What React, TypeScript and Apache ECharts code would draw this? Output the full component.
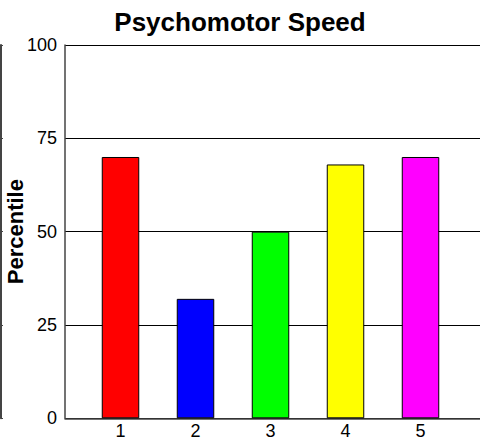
import React, { useEffect, useRef } from "react";
import * as echarts from "echarts";

const categories = [1, 2, 3, 4, 5];
const values = [70, 32, 50, 68, 70];
const barColors = ["#ff0000", "#0000ff", "#00ff00", "#ffff00", "#ff00ff"];
const yTicks = [0, 25, 50, 75, 100];
const title = "Psychomotor Speed";
const yName = "Percentile";

export default function App() {
  const ref = useRef<HTMLDivElement>(null);
  useEffect(() => {
    if (!ref.current) return;
    const chart = echarts.init(ref.current, null, { renderer: "svg" });
    const font = "'Liberation Sans', Arial, sans-serif";
    chart.setOption({
      animation: false,
      title: {
        text: title,
        left: "center",
        top: 4,
        textStyle: { fontFamily: font, fontWeight: "bold", fontSize: 26, color: "#000" },
      },
      grid: { left: 65, right: -10, top: 45, bottom: 444 - 418.3, outerBoundsMode: "none", containLabel: false },
      xAxis: {
        type: "value",
        min: 0.26,
        max: 0.26 + 425 / 75,
        axisLine: { show: true, lineStyle: { color: "#444", width: 1.5 } },
        axisTick: { show: false, customValues: categories },
        splitLine: { show: false },
        axisLabel: {
          customValues: categories,
          fontFamily: font,
          fontSize: 18,
          color: "#000",
          margin: 4,
        },
      },
      yAxis: [
        {
          type: "value",
          min: yTicks[0],
          max: yTicks[yTicks.length - 1],
          interval: 25,
          name: yName,
          nameLocation: "middle",
          nameGap: 39,
          nameMoveOverlap: false,
          nameTextStyle: { fontFamily: font, fontWeight: "bold", fontSize: 22, color: "#000" },
          axisLine: { show: true, lineStyle: { color: "#444", width: 1.5 } },
          axisTick: { show: false },
          splitLine: { show: true, lineStyle: { color: "#000", width: 1.2 } },
          axisLabel: { fontFamily: font, fontSize: 18, color: "#000", margin: 8 },
        },
        {
          type: "value",
          min: yTicks[0],
          max: yTicks[yTicks.length - 1],
          interval: 25,
          position: "left",
          offset: 64,
          axisLine: { show: true, lineStyle: { color: "#444", width: 2 } },
          axisTick: { show: true, inside: true, length: 2, lineStyle: { color: "#444" } },
          axisLabel: { show: false },
          splitLine: { show: false },
        },
      ],
      series: [
        {
          type: "bar",
          barWidth: 37.5,
          data: categories.map((c, i) => ({
            value: [c, values[i]],
            itemStyle: { color: barColors[i], borderColor: "#000", borderWidth: 1 },
          })),
        },
      ],
    });
    return () => chart.dispose();
  }, []);
  return <div ref={ref} style={{ width: 480, height: 444, position: "absolute", left: 0, top: 0 }} />;
}
